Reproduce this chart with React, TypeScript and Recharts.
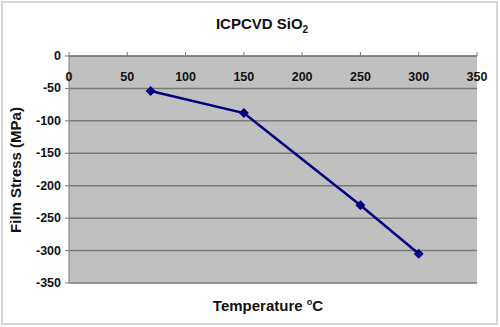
import { CartesianGrid, Line, LineChart, XAxis, YAxis } from 'recharts';

const temperatures = [70, 150, 250, 300];
const filmStress = [-54, -88, -230, -305];
const xTicks = [0, 50, 100, 150, 200, 250, 300, 350];
const yTicks = [0, -50, -100, -150, -200, -250, -300, -350];

const data = temperatures.map((t, i) => ({ temp: t, stress: filmStress[i] }));

const font = 'Arial, "Liberation Sans", sans-serif';

// excel puts the x labels under the axis line even though the axis is at the top
const TopTick = (props: any) => {
  const { x, y, payload } = props;
  return (
    <text x={x} y={y + 31} textAnchor="middle" fontFamily={font} fontSize={12.5} fontWeight="bold" fill="#111">
      {payload.value}
    </text>
  );
};

const LeftTick = (props: any) => {
  const { x, y, payload } = props;
  return (
    <text x={x - 2} y={y + 4} textAnchor="end" fontFamily={font} fontSize={12.5} fontWeight="bold" fill="#111">
      {payload.value}
    </text>
  );
};

const Diamond = (props: any) => {
  const { cx, cy } = props;
  if (cx == null || cy == null) return null;
  const r = 5;
  return <polygon points={`${cx},${cy - r} ${cx + r},${cy} ${cx},${cy + r} ${cx - r},${cy}`} fill="#000080" />;
};

export default function App() {
  return (
    <div style={{ position: 'absolute', left: 0, top: 0, width: 500, height: 327, background: '#fff', fontFamily: font }}>
      <div style={{ position: 'absolute', left: 1, top: 1, width: 493, height: 320, border: '2px solid #d6d6d6' }} />
      <div style={{ position: 'absolute', left: 0, width: 524, top: 15, textAlign: 'center', fontSize: 15, fontWeight: 'bold', color: '#111' }}>
        ICPCVD SiO<sub style={{ fontSize: 10 }}>2</sub>
      </div>
      <div style={{ position: 'absolute', left: 80, width: 376, top: 297, textAlign: 'center', fontSize: 15, fontWeight: 'bold', color: '#111' }}>
        Temperature <sup style={{ fontSize: 9 }}>o</sup>C
      </div>
      <div
        style={{
          position: 'absolute', left: 15, top: 170, transform: 'translate(-50%, -50%) rotate(-90deg)',
          whiteSpace: 'nowrap', fontSize: 15, fontWeight: 'bold', color: '#111',
        }}
      >
        Film Stress (MPa)
      </div>
      <LineChart width={500} height={327} data={data} margin={{ top: 46, right: 23, bottom: 44, left: 9 }} style={{ position: 'absolute', left: 0, top: 0 }}>
        <CartesianGrid vertical={false} fill="#c0c0c0" stroke="#7a7a7a" strokeWidth={1.5} />
        <XAxis
          dataKey="temp" type="number" orientation="top" domain={[0, 350]} ticks={xTicks} height={10}
          axisLine={{ stroke: '#7a7a7a' }} tickLine={{ stroke: '#7a7a7a' }} tickSize={4} tick={<TopTick />} interval={0}
        />
        <YAxis
          type="number" domain={[-350, 0]} ticks={yTicks} width={60} interval={0}
          axisLine={{ stroke: '#7a7a7a' }} tickLine={{ stroke: '#7a7a7a' }} tickSize={4} tick={<LeftTick />}
        />
        <Line dataKey="stress" stroke="#000080" strokeWidth={2.5} dot={<Diamond />} isAnimationActive={false} />
      </LineChart>
    </div>
  );
}
